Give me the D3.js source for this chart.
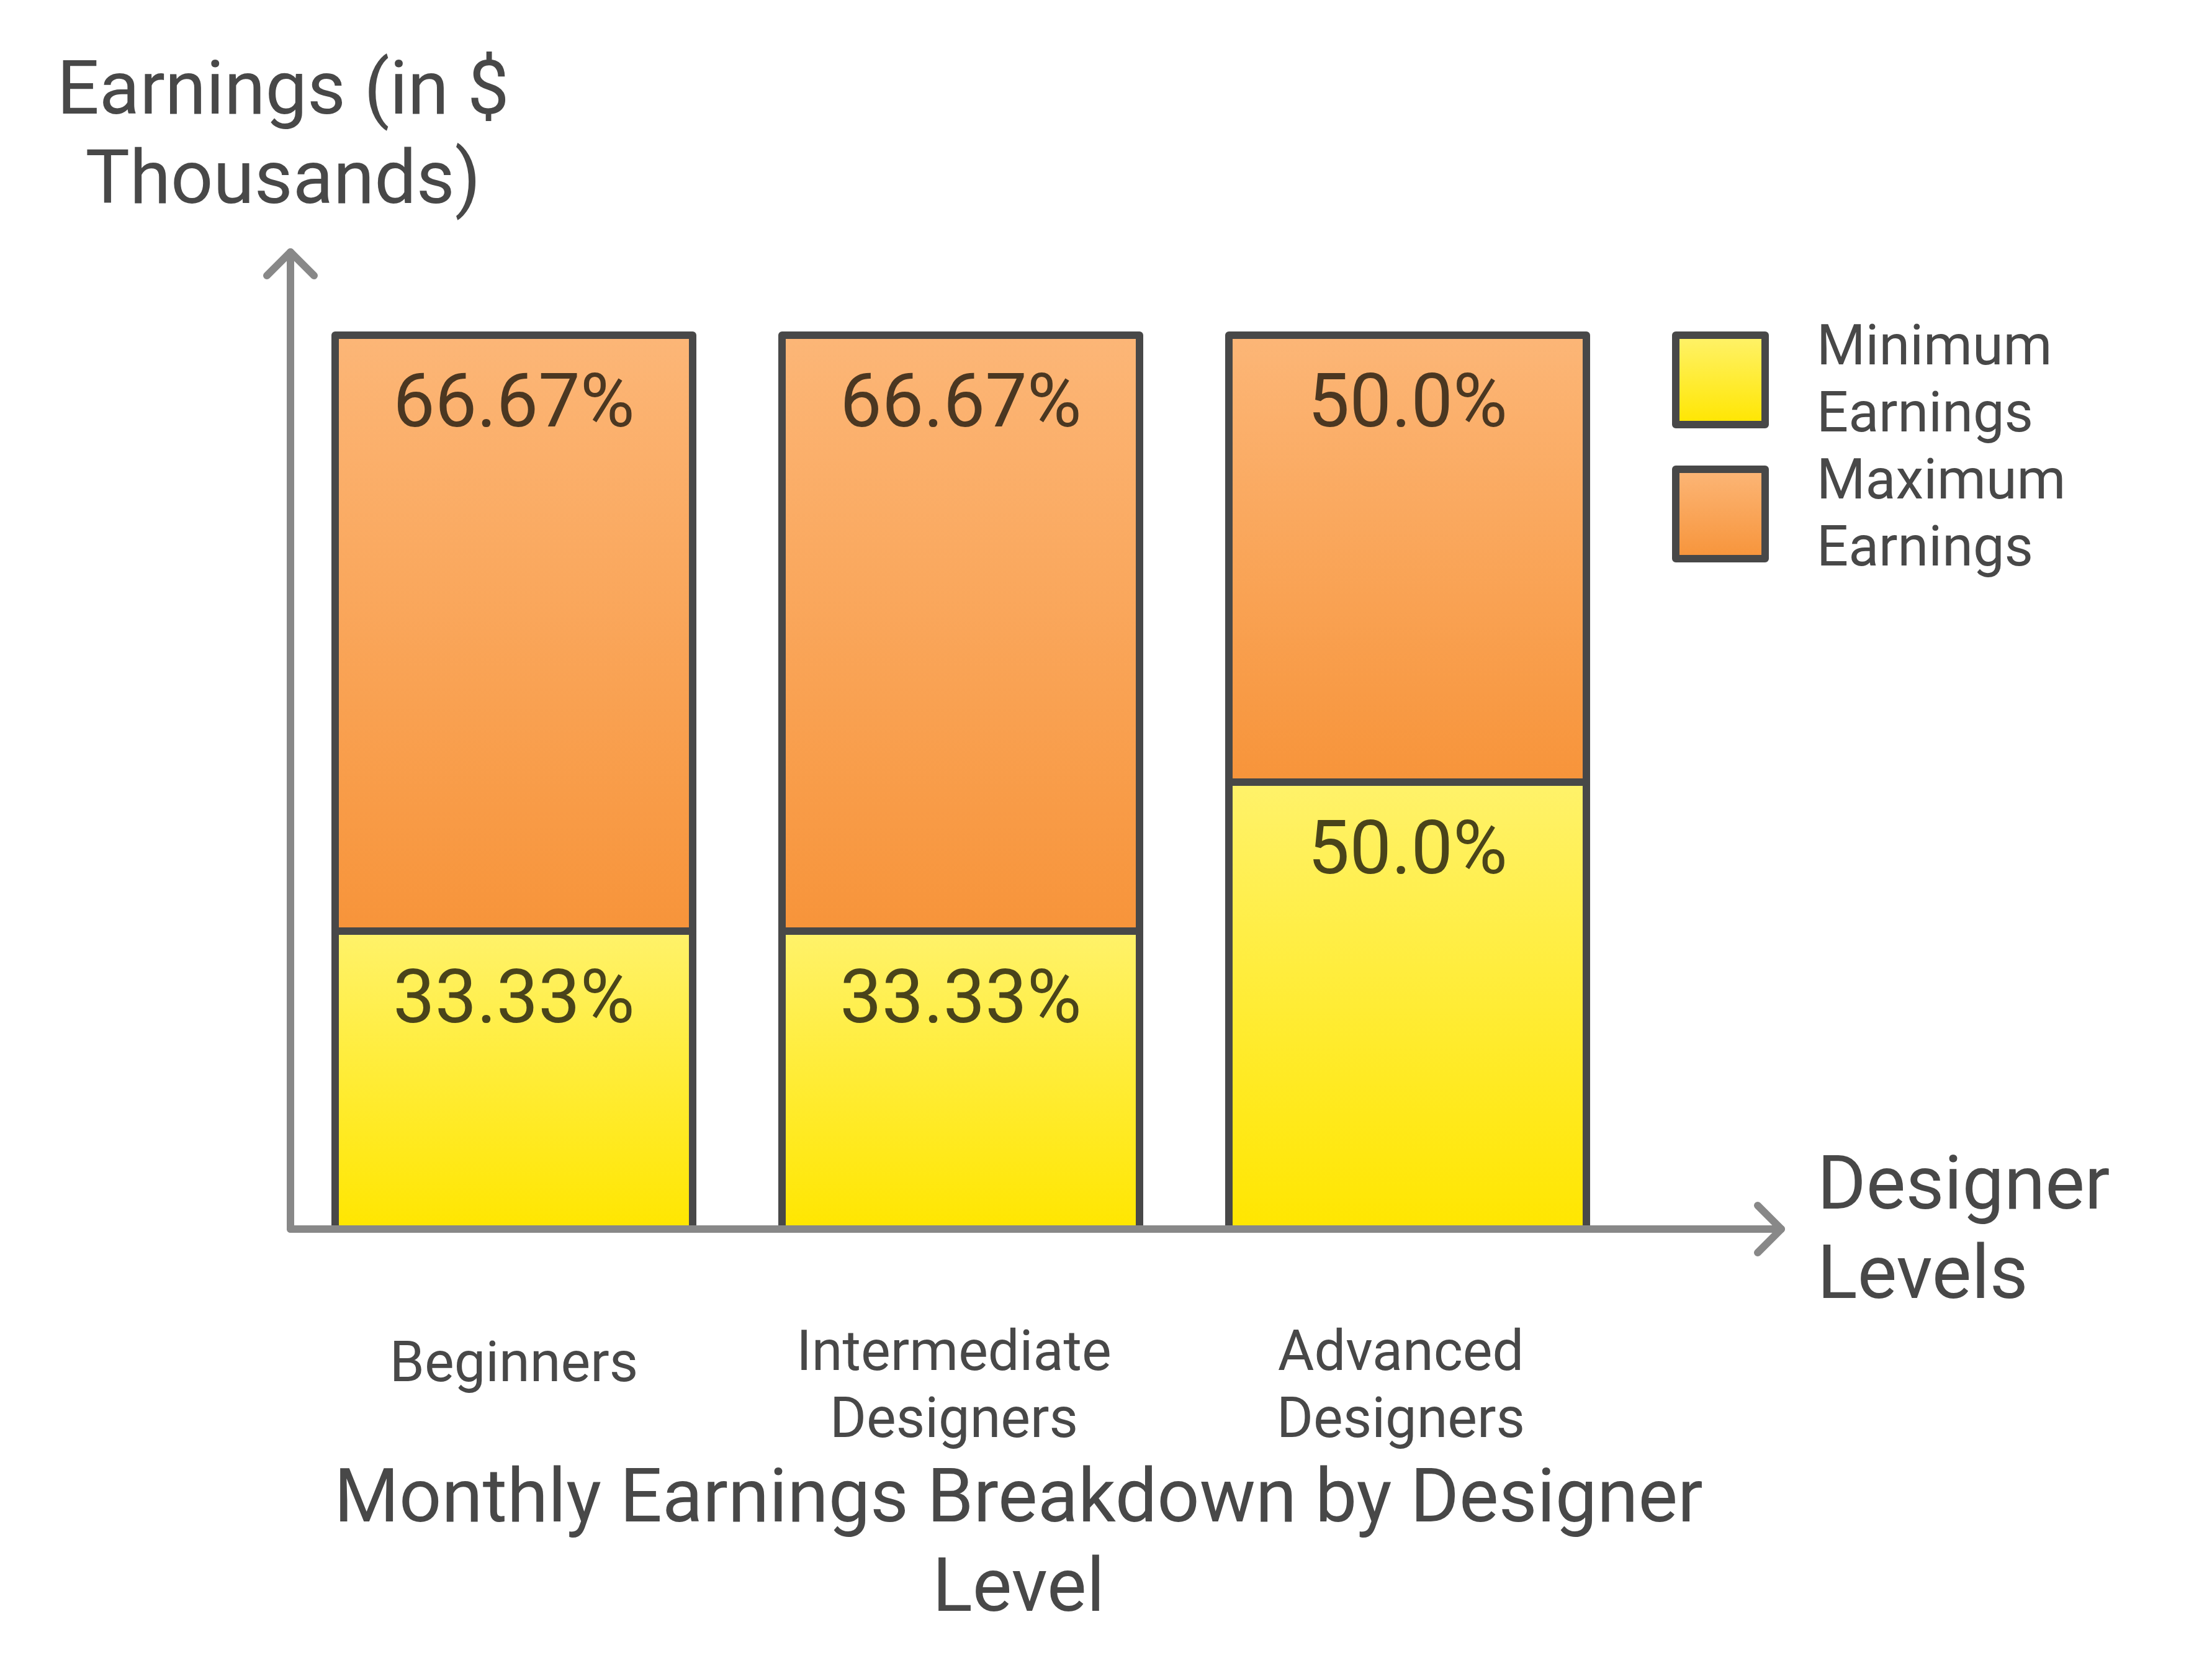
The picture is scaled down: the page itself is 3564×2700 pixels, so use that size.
<!DOCTYPE html>
<html>
<head>
<meta charset="utf-8">
<script src="https://cdn.jsdelivr.net/npm/d3@7/dist/d3.min.js"></script>
<style>
  html, body { margin: 0; padding: 0; background: #ffffff; }
  svg { display: block; }
  text { font-family: Roboto, "Noto Sans", sans-serif; }
</style>
</head>
<body>
<script>
// ---- data ----
const categories = ["Beginners", "Intermediate Designers", "Advanced Designers"];
const minimumEarningsPct = [33.33, 33.33, 50.0];
const maximumEarningsPct = [66.67, 66.67, 50.0];
const seriesNames = ["Minimum Earnings", "Maximum Earnings"];
const chartTitle = "Monthly Earnings Breakdown by Designer Level";
const yAxisTitle = "Earnings (in $ Thousands)";
const xAxisTitle = "Designer Levels";

// ---- layout ----
const W = 3564, H = 2700;
const originX = 468, baseY = 1980, topY = 540;
const textColor = "#484848";
const axisColor = "#888888";
const strokeColor = "#484848";

const svg = d3.select("body").append("svg")
  .attr("width", W).attr("height", H).attr("viewBox", `0 0 ${W} ${H}`);
svg.append("rect").attr("width", W).attr("height", H).attr("fill", "#ffffff");

const defs = svg.append("defs");
function grad(id, top, bottom) {
  const g = defs.append("linearGradient").attr("id", id)
    .attr("x1", 0).attr("y1", 0).attr("x2", 0).attr("y2", 1);
  g.append("stop").attr("offset", "0%").attr("stop-color", top);
  g.append("stop").attr("offset", "100%").attr("stop-color", bottom);
}
grad("gYellow", "#FFF26A", "#FFE600");
grad("gOrange", "#FCB677", "#F7943A");
const fills = ["url(#gYellow)", "url(#gOrange)"];
const labelColors = ["#4A441A", "#4B3721"];

const x = d3.scaleBand().domain(categories)
  .range([originX, 2628]).paddingInner(0.2).paddingOuter(0.1);
const y = d3.scaleLinear().domain([0, 100]).range([baseY, topY]);

const rows = categories.map((c, i) => ({ cat: c, min: minimumEarningsPct[i], max: maximumEarningsPct[i] }));
const stack = d3.stack().keys(["min", "max"])(rows);

function fmt(v) { return Number.isInteger(v) ? v.toFixed(1) + "%" : v + "%"; }

// bars
stack.forEach((layer, si) => {
  const g = svg.append("g");
  g.selectAll("rect").data(layer).join("rect")
    .attr("x", d => x(d.data.cat))
    .attr("width", x.bandwidth())
    .attr("y", d => y(d[1]))
    .attr("height", d => y(d[0]) - y(d[1]))
    .attr("fill", fills[si])
    .attr("stroke", strokeColor)
    .attr("stroke-width", 12)
    .attr("stroke-linejoin", "round");
  g.selectAll("text").data(layer).join("text")
    .attr("x", d => x(d.data.cat) + x.bandwidth() / 2)
    .attr("y", d => y(d[1]) + 147)
    .attr("text-anchor", "middle")
    .attr("font-size", 120)
    .attr("fill", labelColors[si])
    .text(d => fmt(d[1] - d[0]));
});

// axes
const axes = svg.append("g").attr("fill", "none").attr("stroke", axisColor)
  .attr("stroke-width", 12).attr("stroke-linecap", "round").attr("stroke-linejoin", "round");
axes.append("path").attr("d", d3.line()([[originX, baseY], [originX, 406]]));
axes.append("path").attr("d", d3.line()([[430, 444], [originX, 406], [506, 444]]));
axes.append("path").attr("d", d3.line()([[originX, baseY], [2870, baseY]]));
axes.append("path").attr("d", d3.line()([[2832, baseY - 38], [2870, baseY], [2832, baseY + 38]]));

// text wrapping helper
function wrapLines(str, size, maxW) {
  const t = svg.append("text").attr("font-size", size).attr("visibility", "hidden");
  const words = str.split(" ");
  const lines = [];
  let cur = "";
  words.forEach(w => {
    const test = cur ? cur + " " + w : w;
    t.text(test);
    if (cur && t.node().getComputedTextLength() > maxW) { lines.push(cur); cur = w; }
    else cur = test;
  });
  if (cur) lines.push(cur);
  t.remove();
  return lines;
}
function block(str, size, maxW, xPos, y0, lh, anchor, color) {
  const lines = wrapLines(str, size, maxW);
  const t = svg.append("text").attr("font-size", size).attr("fill", color || textColor)
    .attr("text-anchor", anchor);
  lines.forEach((l, i) => t.append("tspan").attr("x", xPos).attr("y", y0 + i * lh).text(l));
  return lines.length;
}

// category labels
categories.forEach(c => {
  const lines = wrapLines(c, 90, x.bandwidth());
  const cx = x(c) + x.bandwidth() / 2 + (lines.length > 1 ? -11 : 0);
  const y0 = lines.length > 1 ? 2207 : 2225;
  const t = svg.append("text").attr("font-size", 90).attr("fill", textColor).attr("text-anchor", "middle");
  lines.forEach((l, i) => t.append("tspan").attr("x", cx).attr("y", y0 + i * 108).text(l));
});

// titles
block(yAxisTitle, 120, 760, 456, 183, 144, "middle");
block(xAxisTitle, 120, 560, 2928, 1947, 144, "start");
block(chartTitle, 120, 2300, 1641, 2451, 144, "middle");

// legend
seriesNames.forEach((s, i) => {
  const ly = 540 + i * 216;
  svg.append("rect").attr("x", 2700).attr("y", ly).attr("width", 144).attr("height", 144)
    .attr("fill", fills[i]).attr("stroke", strokeColor).attr("stroke-width", 12)
    .attr("stroke-linejoin", "round");
  block(s, 90, 430, 2927, 587 + i * 216, 108, "start");
});
</script>
</body>
</html>
